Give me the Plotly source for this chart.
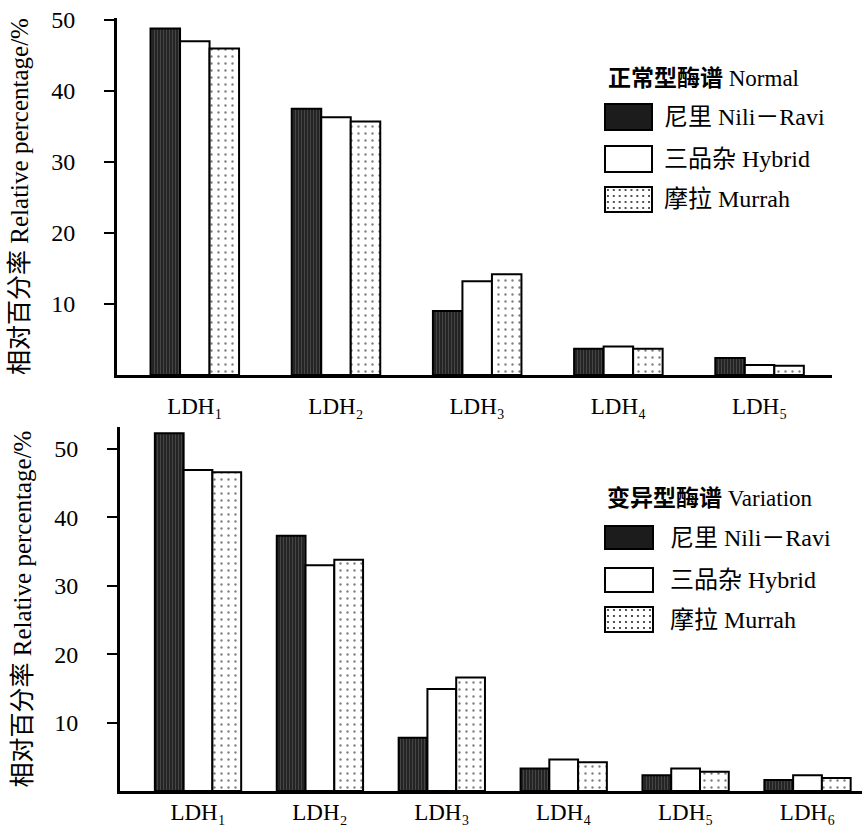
import base64
import plotly.graph_objects as go

# ---------------- data ----------------
normal_categories = ["LDH₁", "LDH₂", "LDH₃", "LDH₄", "LDH₅"]
variation_categories = ["LDH₁", "LDH₂", "LDH₃", "LDH₄", "LDH₅", "LDH₆"]
series_names = ["尼里 Nili－Ravi", "三品杂 Hybrid", "摩拉 Murrah"]

normal_nili = [48.8, 37.5, 9.0, 3.7, 2.4]
normal_hybrid = [47.0, 36.3, 13.2, 4.0, 1.4]
normal_murrah = [46.0, 35.7, 14.2, 3.7, 1.3]

variation_nili = [52.3, 37.3, 7.8, 3.3, 2.3, 1.6]
variation_hybrid = [46.9, 33.0, 14.9, 4.6, 3.3, 2.3]
variation_murrah = [46.6, 33.8, 16.6, 4.2, 2.8, 1.9]

y_ticks = [10, 20, 30, 40, 50]
y_title = "相对百分率 Relative percentage/%"
normal_legend_title = "<b>正常型酶谱</b> Normal"
variation_legend_title = "<b>变异型酶谱</b> Variation"

# ---------------- styling ----------------
W, H = 862, 831
SERIF = "Liberation Serif, DejaVu Serif, Noto Sans CJK SC, serif"


def fx(p):
    return p / W


def fy(p):
    return 1 - p / H


styles = [
    dict(color="#242424",
         pattern=dict(shape="|", fgcolor="#8a8a8a", size=3, solidity=0.22),
         line=dict(color="black", width=2)),
    dict(color="white", line=dict(color="black", width=2)),
    dict(color="white",
         pattern=dict(shape=".", fgcolor="black", bgcolor="white", size=7, solidity=0.09),
         line=dict(color="black", width=2)),
]

fig = go.Figure()

top_w = 0.209
bot_w = 0.236
for k, (name, vals) in enumerate(zip(series_names, [normal_nili, normal_hybrid, normal_murrah])):
    fig.add_trace(go.Bar(x=normal_categories, y=vals, name=name, marker=styles[k],
                         width=top_w, offset=-1.5 * top_w + k * top_w,
                         xaxis="x", yaxis="y", showlegend=False))
for k, (name, vals) in enumerate(zip(series_names, [variation_nili, variation_hybrid, variation_murrah])):
    fig.add_trace(go.Bar(x=variation_categories, y=vals, name=name, marker=styles[k],
                         width=bot_w, offset=-1.5 * bot_w + k * bot_w,
                         xaxis="x2", yaxis="y2", showlegend=False))

xcommon = dict(showline=True, linewidth=3, linecolor="black", ticks="", showgrid=False,
               zeroline=False, tickfont=dict(family=SERIF, size=23, color="black"),
               fixedrange=True, automargin=False)
ycommon = dict(showline=True, linewidth=3, linecolor="black", ticks="outside", ticklen=10,
               tickwidth=2, tickcolor="black", tickvals=y_ticks, showgrid=False,
               zeroline=False, ticklabelstandoff=24, automargin=False, fixedrange=True,
               tickfont=dict(family=SERIF, size=24, color="black"),
               title=dict(text=y_title, font=dict(family=SERIF, size=25, color="black"),
                          standoff=16))

fig.update_layout(
    width=W, height=H,
    margin=dict(l=0, r=0, t=0, b=0, pad=0),
    autosize=False,
    font=dict(family=SERIF, size=20, color="black"),
    paper_bgcolor="white", plot_bgcolor="white",
    barmode="overlay",
    showlegend=False,
    xaxis=dict(domain=[fx(117), fx(832)], range=[-0.551, 4.513], anchor="y",
               ticklabelstandoff=8, **xcommon),
    yaxis=dict(domain=[fy(375), fy(18)], range=[0, 50.28], anchor="x", **ycommon),
    xaxis2=dict(domain=[fx(120), 1.0], range=[-0.640, 5.447], anchor="y2",
                ticklabelstandoff=-2, **xcommon),
    yaxis2=dict(domain=[fy(791), fy(427)], range=[0, 53.2], anchor="x2", **ycommon),
)

# ---------------- legends (drawn as swatches + labels) ----------------
svg = ("<svg xmlns='http://www.w3.org/2000/svg' width='48' height='25'>"
       "<defs><pattern id='p' width='6' height='6' patternUnits='userSpaceOnUse'>"
       "<circle cx='3' cy='3' r='0.9' fill='black'/></pattern></defs>"
       "<rect width='48' height='25' fill='white'/>"
       "<rect width='48' height='25' fill='url(#p)'/></svg>")
dots_uri = "data:image/svg+xml;base64," + base64.b64encode(svg.encode()).decode()

legend_blocks = [
    dict(title=normal_legend_title, title_x=606, title_y=79, text_x=662,
         boxes=[(605, 652, 104, 130), (605, 652, 146, 172), (605, 652, 187, 212)]),
    dict(title=variation_legend_title, title_x=605, title_y=498, text_x=668,
         boxes=[(605, 653, 526, 549), (605, 653, 568, 592), (605, 653, 607, 632)]),
]
fills = ["#1c1c1c", "white", None]
for blk in legend_blocks:
    fig.add_annotation(x=fx(blk["title_x"]), y=fy(blk["title_y"]), xref="paper", yref="paper",
                       text=blk["title"], showarrow=False, xanchor="left", yanchor="middle",
                       font=dict(family=SERIF, size=23, color="black"))
    for k, (x0, x1, y0, y1) in enumerate(blk["boxes"]):
        if fills[k] is None:
            fig.add_layout_image(source=dots_uri, xref="paper", yref="paper",
                                 x=fx(x0), y=fy(y0), sizex=fx(x1) - fx(x0),
                                 sizey=fy(y0) - fy(y1), sizing="stretch",
                                 xanchor="left", yanchor="top", layer="above")
            fc = "rgba(0,0,0,0)"
        else:
            fc = fills[k]
        fig.add_shape(type="rect", xref="paper", yref="paper",
                      x0=fx(x0), x1=fx(x1), y0=fy(y1), y1=fy(y0),
                      line=dict(color="black", width=2), fillcolor=fc, layer="above")
        fig.add_annotation(x=fx(blk["text_x"]), y=fy((y0 + y1) / 2), xref="paper", yref="paper",
                           text=series_names[k], showarrow=False, xanchor="left",
                           yanchor="middle", font=dict(family=SERIF, size=24, color="black"))

fig.write_html(
    "out.html",
    config={"displayModeBar": False, "staticPlot": True},
    post_script=("document.documentElement.style.margin='0';"
                 "document.body.style.margin='0';"
                 "document.body.style.overflow='hidden';"),
)
